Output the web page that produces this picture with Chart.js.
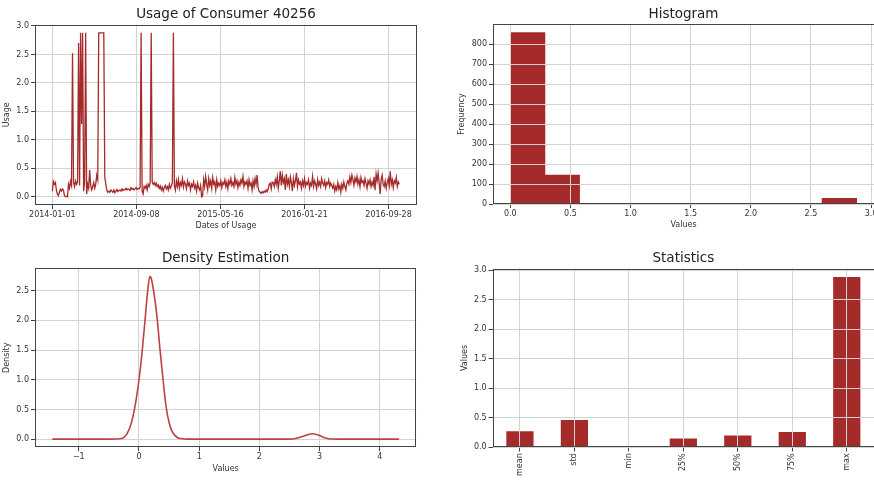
<!DOCTYPE html>
<html>
<head>
<meta charset="utf-8">
<script src="https://cdn.jsdelivr.net/npm/chart.js@4.4.1/dist/chart.umd.min.js"></script>
<style>
  html, body { margin: 0; padding: 0; background: #fff; }
  #wrap { position: relative; width: 874px; height: 482px; overflow: hidden; }
  canvas { position: absolute; }
</style>
</head>
<body>
<div id="wrap">
  <canvas id="usage" width="437" height="241" style="left:0;top:0"></canvas>
  <canvas id="hist" width="437" height="241" style="left:437px;top:0"></canvas>
  <canvas id="kde" width="437" height="241" style="left:0;top:241px"></canvas>
  <canvas id="stats" width="437" height="241" style="left:437px;top:241px"></canvas>
</div>
<script>
// ---- data ----
var consumerId = 40256;
var usageStepDays = 3;   // one reading every 3 days, day 0 = 2014-01-01
var usageValues = [
  0.10, 0.27, 0.22, 0.25, 0.12, 0.05, 0.02, 0.08, 0.13, 0.10,
  0.14, 0.12, 0.02, 0.00, 0.01, 0.00, 0.22, 0.15, 0.27, 0.20,
  2.52, 0.25, 0.18, 0.28, 0.22, 0.26, 2.70, 0.20, 2.88, 1.28,
  2.88, 0.10, 0.25, 2.88, 0.05, 0.22, 0.15, 0.47, 0.20, 0.12,
  0.18, 0.25, 0.15, 0.22, 0.38, 0.30, 2.88, 2.88, 2.88, 2.88,
  2.88, 2.88, 0.35, 0.22, 0.12, 0.08, 0.10, 0.08, 0.12, 0.10,
  0.08, 0.12, 0.07, 0.10, 0.13, 0.09, 0.11, 0.12, 0.10, 0.14,
  0.11, 0.13, 0.12, 0.15, 0.12, 0.14, 0.13, 0.11, 0.16, 0.13,
  0.15, 0.12, 0.14, 0.16, 0.13, 0.15, 0.14, 0.17, 2.88, 0.10,
  0.05, 0.18, 0.15, 0.20, 0.12, 0.22, 0.18, 0.25, 2.88, 0.26,
  0.22, 0.25, 0.20, 0.24, 0.18, 0.21, 0.15, 0.19, 0.12, 0.17,
  0.10, 0.16, 0.20, 0.14, 0.18, 0.12, 0.22, 0.15, 0.19, 0.25,
  2.88, 0.20, 0.12, 0.28, 0.18, 0.30, 0.15, 0.25, 0.20, 0.32,
  0.17, 0.26, 0.22, 0.14, 0.28, 0.20, 0.24, 0.12, 0.22, 0.18,
  0.26, 0.15, 0.20, 0.10, 0.24, 0.16, 0.12, 0.20, 0.00, 0.02,
  0.30, 0.18, 0.36, 0.22, 0.12, 0.32, 0.20, 0.28, 0.15, 0.34,
  0.22, 0.26, 0.12, 0.30, 0.18, 0.24, 0.20, 0.28, 0.16, 0.25,
  0.22, 0.30, 0.18, 0.26, 0.14, 0.28, 0.22, 0.32, 0.20, 0.25,
  0.18, 0.34, 0.22, 0.28, 0.16, 0.26, 0.20, 0.30, 0.24, 0.36,
  0.18, 0.26, 0.22, 0.28, 0.15, 0.30, 0.20, 0.24, 0.12, 0.28,
  0.18, 0.32, 0.22, 0.38, 0.16, 0.10, 0.08, 0.06, 0.09, 0.07,
  0.10, 0.08, 0.12, 0.09, 0.14, 0.22, 0.24, 0.14, 0.26, 0.25,
  0.18, 0.30, 0.22, 0.35, 0.15, 0.28, 0.45, 0.20, 0.38, 0.25,
  0.32, 0.12, 0.40, 0.22, 0.30, 0.18, 0.35, 0.25, 0.10, 0.32,
  0.20, 0.28, 0.42, 0.18, 0.30, 0.22, 0.26, 0.15, 0.28, 0.20,
  0.32, 0.18, 0.25, 0.22, 0.30, 0.15, 0.24, 0.20, 0.36, 0.18,
  0.28, 0.22, 0.14, 0.30, 0.20, 0.26, 0.18, 0.32, 0.24, 0.20,
  0.28, 0.16, 0.25, 0.22, 0.30, 0.18, 0.24, 0.20, 0.15, 0.22,
  0.10, 0.18, 0.12, 0.25, 0.14, 0.20, 0.08, 0.22, 0.15, 0.26,
  0.18, 0.12, 0.24, 0.28, 0.22, 0.35, 0.25, 0.38, 0.30, 0.20,
  0.33, 0.26, 0.36, 0.22, 0.30, 0.18, 0.34, 0.25, 0.28, 0.20,
  0.32, 0.24, 0.15, 0.28, 0.22, 0.30, 0.18, 0.26, 0.20, 0.35,
  0.12, 0.40, 0.28, 0.42, 0.25, 0.05, 0.30, 0.38, 0.22, 0.18,
  0.28, 0.15, 0.25, 0.32, 0.20, 0.45, 0.22, 0.30, 0.16, 0.28,
  0.24, 0.34, 0.18, 0.26, 0.22
];
var dateTickDays = [0, 250, 500, 750, 1000];
var dateTickLabels = ['2014-01-01', '2014-09-08', '2015-05-16', '2016-01-21', '2016-09-28'];

var histBinEdges = [0, 0.288, 0.576, 0.864, 1.152, 1.44, 1.728, 2.016, 2.304, 2.592, 2.88];
var histCounts = [857, 145, 0, 0, 0, 0, 0, 0, 0, 28];

var kdeX = [-1.44, -1.0, -0.5, -0.35, -0.3, -0.25, -0.2, -0.15, -0.1, -0.05, 0.0, 0.05, 0.1, 0.15, 0.18,
            0.2, 0.25, 0.3, 0.35, 0.4, 0.45, 0.5, 0.55, 0.6, 0.65, 0.7, 0.8, 1.0, 1.5, 2.0, 2.5, 2.6,
            2.7, 2.8, 2.88, 2.95, 3.0, 3.1, 3.2, 3.5, 4.0, 4.32];
var kdeY = [0, 0, 0, 0.002, 0.01, 0.03, 0.09, 0.2, 0.38, 0.65, 1.0, 1.45, 2.0, 2.55, 2.74,
            2.72, 2.45, 2.05, 1.5, 1.0, 0.55, 0.28, 0.13, 0.06, 0.02, 0.01, 0, 0, 0, 0, 0.001, 0.01,
            0.04, 0.075, 0.092, 0.08, 0.06, 0.02, 0.003, 0, 0, 0];

var statLabels = ['mean', 'std', 'min', '25%', '50%', '75%', 'max'];
var statValues = [0.27, 0.46, 0.0, 0.15, 0.20, 0.26, 2.88];

// ---- styling ----
var RED = '#a52a2a';
var GRID = '#d3d3d3';
var TEXT = '#333333';
var FONT = 'DejaVu Sans';
Chart.defaults.font.family = FONT;
Chart.defaults.animation = false;

function fmt1(v) { return v.toFixed(1); }
function fmtInt(v) { return String(Math.round(v)); }
function fmtMinus(v) { return v < 0 ? '\u2212' + Math.abs(v) : String(v); }

function axis(o) {
  var ax = {
    type: o.type || 'linear',
    offset: !!o.offset,
    afterFit: function (s) {
      if (s.isHorizontal()) s.height = o.size; else s.width = o.size;
      s.paddingLeft = s.paddingRight = s.paddingTop = s.paddingBottom = 0;
    },
    grid: { color: GRID, lineWidth: 1, drawTicks: true, tickLength: 4, tickColor: '#444', offset: false },
    border: { display: false },
    ticks: { color: TEXT, font: { family: FONT, size: 8 }, padding: o.pad == null ? 2 : o.pad,
             autoSkip: false, maxRotation: o.rot || 0, minRotation: o.rot || 0 },
    title: o.title ? { display: true, text: o.title, color: TEXT, font: { family: FONT, size: 8 }, padding: o.titlePad }
                   : { display: false }
  };
  if (o.min != null) ax.min = o.min;
  if (o.max != null) ax.max = o.max;
  if (o.tickVals) ax.afterBuildTicks = function (s) { s.ticks = o.tickVals.map(function (v) { return { value: v }; }); };
  if (o.fmt) ax.ticks.callback = o.fmt;
  return ax;
}

function title(text, top, bottom) {
  return { display: true, text: text, color: '#222', fullSize: false,
           font: { family: FONT, size: 13.5, weight: 'normal' }, padding: { top: top, bottom: bottom } };
}

// box round the plot area, and the grid redrawn over bars (as matplotlib does)
var framePlugin = {
  id: 'frame',
  afterDatasetsDraw: function (chart, args, opts) {
    var a = chart.chartArea, ctx = chart.ctx;
    if (opts.gridOnTop) { chart.scales.x.drawGrid(a); chart.scales.y.drawGrid(a); }
    ctx.save();
    ctx.strokeStyle = '#444';
    ctx.lineWidth = 1;
    var l = Math.round(a.left) + 0.5, t = Math.round(a.top) + 0.5;
    var r = Math.round(a.right) - 0.5 + (opts.openRight ? 2 : 0), b = Math.round(a.bottom) - 0.5;
    ctx.strokeRect(l, t, r - l, b - t);
    ctx.restore();
  }
};

function baseOptions(t, pad, scales, frame) {
  return {
    responsive: false, devicePixelRatio: 1, animation: false,
    layout: { padding: pad },
    plugins: { legend: { display: false }, tooltip: { enabled: false }, title: t, frame: frame || {} },
    scales: scales
  };
}

// ---- 1: usage over time ----
new Chart(document.getElementById('usage'), {
  type: 'line',
  data: { datasets: [{
    data: usageValues.map(function (v, i) { return { x: i * usageStepDays, y: v }; }),
    borderColor: RED, borderWidth: 1.3, pointRadius: 0, fill: false, tension: 0
  }] },
  options: baseOptions(title('Usage of Consumer ' + consumerId, 6, 2.4), { left: 0, right: 20, top: 0, bottom: 0 }, {
    x: axis({ min: -51.6, max: 1084.6, size: 36, tickVals: dateTickDays, pad: 1,
              fmt: function (v, i) { return dateTickLabels[i]; },
              title: 'Dates of Usage', titlePad: { top: 0, bottom: 10.5 } }),
    y: axis({ min: -0.144, max: 3.024, size: 35, tickVals: [0, 0.5, 1, 1.5, 2, 2.5, 3], fmt: fmt1,
              title: 'Usage', titlePad: { top: 2.5, bottom: 0 } })
  }),
  plugins: [framePlugin]
});

// ---- 2: histogram ----
new Chart(document.getElementById('hist'), {
  type: 'bar',
  data: { datasets: [{
    data: histCounts.map(function (c, i) { return { x: (histBinEdges[i] + histBinEdges[i + 1]) / 2, y: c }; }),
    backgroundColor: RED, borderWidth: 0, barPercentage: 1, categoryPercentage: 1
  }] },
  options: baseOptions(title('Histogram', 6, 1.8), { left: 0, right: 0, top: 0, bottom: 0 }, {
    x: axis({ min: -0.144, max: 3.024, size: 37, tickVals: [0, 0.5, 1, 1.5, 2, 2.5, 3], fmt: fmt1, pad: 1,
              title: 'Values', titlePad: { top: 0, bottom: 10.9 } }),
    y: axis({ min: 0, max: 900, size: 56, tickVals: [0, 100, 200, 300, 400, 500, 600, 700, 800], fmt: fmtInt,
              title: 'Frequency', titlePad: { top: 20, bottom: 0 } })
  }, { gridOnTop: true, openRight: true }),
  plugins: [framePlugin]
});

// ---- 3: density estimation ----
new Chart(document.getElementById('kde'), {
  type: 'line',
  data: { datasets: [{
    data: kdeX.map(function (x, i) { return { x: x, y: kdeY[i] }; }),
    borderColor: '#c0403f', borderWidth: 1.6, pointRadius: 0, fill: false, cubicInterpolationMode: 'monotone'
  }] },
  options: baseOptions(title('Density Estimation', 9, 2.1), { left: 0, right: 20.7, top: 0, bottom: 0 }, {
    x: axis({ min: -1.728, max: 4.608, size: 34.7, tickVals: [-1, 0, 1, 2, 3, 4], fmt: fmtMinus, pad: 1,
              title: 'Values', titlePad: { top: 0, bottom: 7.9 } }),
    y: axis({ min: -0.137, max: 2.877, size: 35, tickVals: [0, 0.5, 1, 1.5, 2, 2.5], fmt: fmt1,
              title: 'Density', titlePad: { top: 1.9, bottom: 0 } })
  }),
  plugins: [framePlugin]
});

// ---- 4: statistics ----
new Chart(document.getElementById('stats'), {
  type: 'bar',
  data: { labels: statLabels, datasets: [{
    data: statValues, backgroundColor: RED, borderWidth: 0, barPercentage: 0.5, categoryPercentage: 1
  }] },
  options: baseOptions(title('Statistics', 9, 2.4), { left: 0, right: 0, top: 0, bottom: 0 }, {
    x: axis({ type: 'category', offset: true, size: 34.7, rot: 90, pad: 2 }),
    y: axis({ min: 0, max: 3.024, size: 55.7, tickVals: [0, 0.5, 1, 1.5, 2, 2.5, 3], fmt: fmt1,
              title: 'Values', titlePad: { top: 23.5, bottom: 0 } })
  }, { gridOnTop: true, openRight: true }),
  plugins: [framePlugin]
});
</script>
</body>
</html>
